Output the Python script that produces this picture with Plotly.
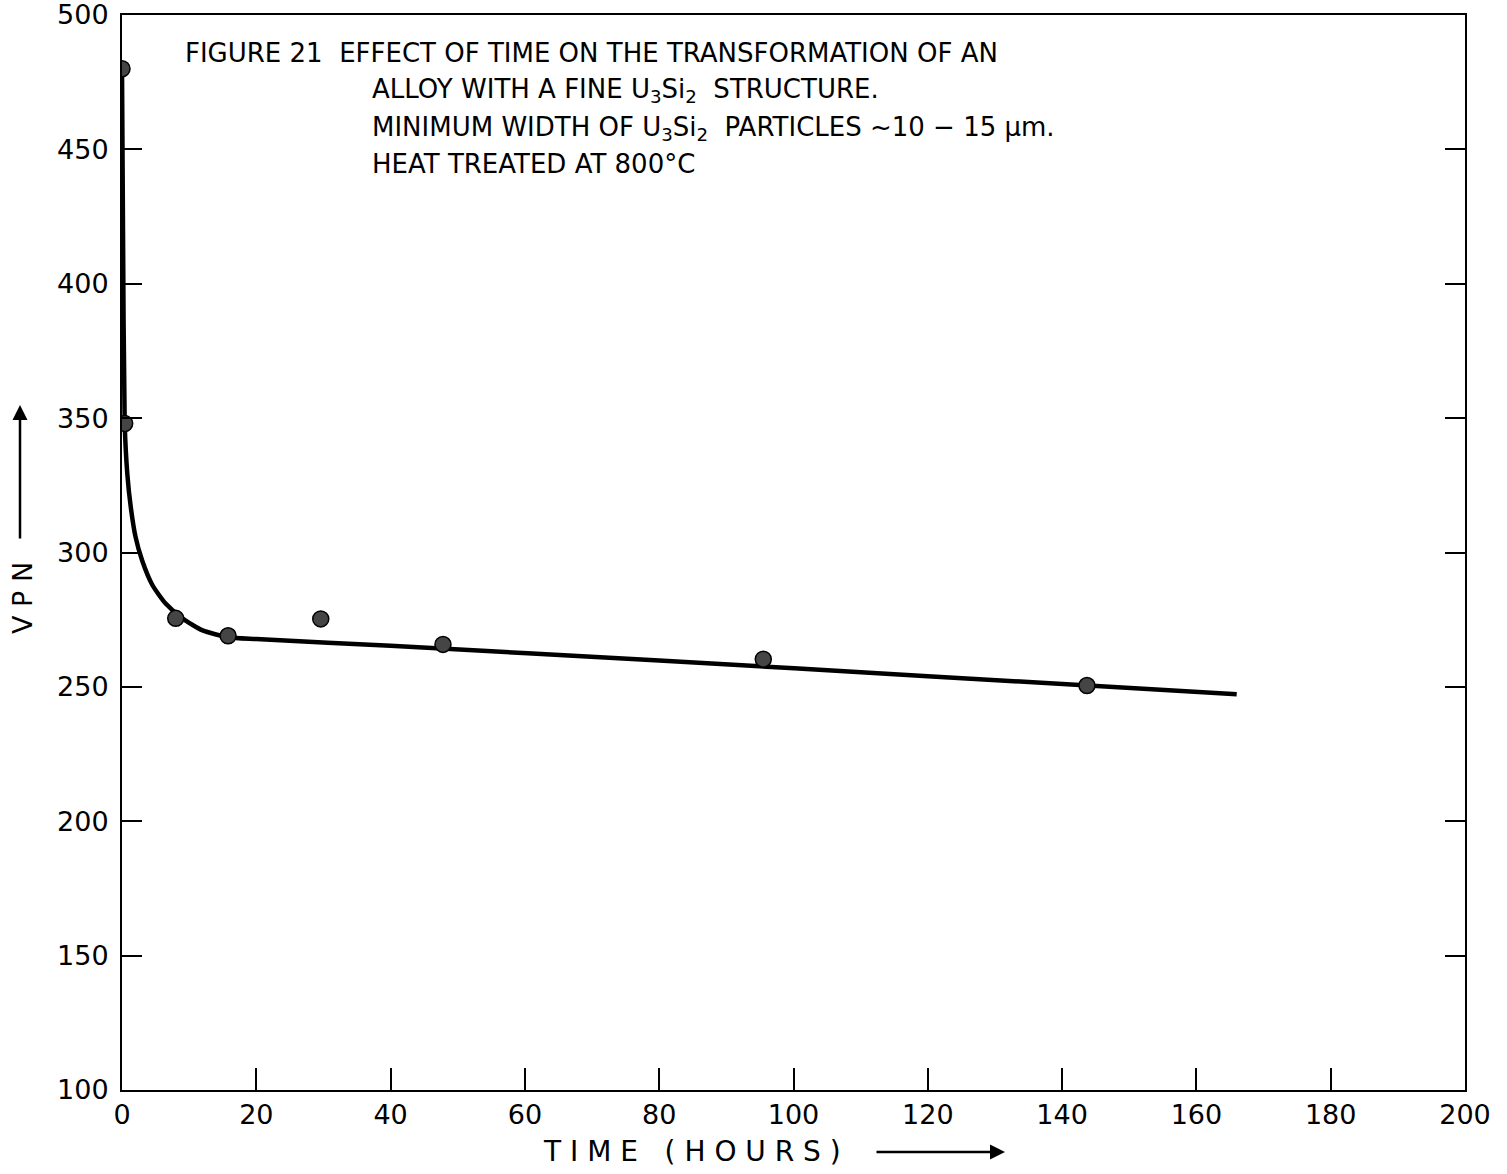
import plotly.graph_objects as go

# Data points (time in hours, VPN hardness)
time_pts = [0.0, 0.4, 8.0, 15.8, 29.6, 47.8, 95.5, 143.7]
vpn_pts = [480, 348, 275.5, 269, 275.3, 265.8, 260.3, 250.5]

# Fitted curve
curve_t = [0.0, 0.15, 0.4, 0.8, 1.3, 2.0, 3.0, 4.5, 6.5, 9.0, 12.0, 15.8, 20.0, 40.0, 80.0, 120.0, 166.0]
curve_v = [480, 420, 348, 329, 317, 306, 297, 288, 281, 275.5, 271, 268.5, 267.8, 265.3, 259.8, 254.0, 247.3]

x_ticks = [0, 20, 40, 60, 80, 100, 120, 140, 160, 180, 200]
y_ticks = [100, 150, 200, 250, 300, 350, 400, 450, 500]

FONT = "DejaVu Sans"

fig = go.Figure()
fig.add_trace(go.Scatter(x=curve_t, y=curve_v, mode="lines",
                         line=dict(color="black", width=4.5, shape="spline", smoothing=0.6),
                         hoverinfo="skip", showlegend=False))
fig.add_trace(go.Scatter(x=time_pts, y=vpn_pts, mode="markers",
                         marker=dict(size=16, color="#454545", line=dict(color="black", width=1.5)),
                         showlegend=False))

fig.update_layout(
    width=1507, height=1174,
    margin=dict(l=122, r=42, t=15, b=84),
    paper_bgcolor="white", plot_bgcolor="white",
    font=dict(family=FONT, color="black"),
    showlegend=False,
)
fig.update_xaxes(range=[0, 200], tickvals=x_ticks, ticktext=[str(v) for v in x_ticks],
                 ticks="inside", ticklen=22, tickwidth=2, tickcolor="black",
                 showline=True, linecolor="black", linewidth=2, mirror=True, automargin=False,
                 ticklabeloverflow="allow",
                 showgrid=False, zeroline=False, tickfont=dict(size=27, family=FONT))
fig.update_yaxes(range=[100, 500], tickvals=y_ticks, ticktext=[str(v) for v in y_ticks],
                 ticks="inside", ticklen=20, tickwidth=2, tickcolor="black",
                 showline=True, linecolor="black", linewidth=2, mirror="ticks", automargin=False,
                 ticklabelstandoff=6, ticklabeloverflow="allow",
                 showgrid=False, zeroline=False, tickfont=dict(size=27, family=FONT))

PW, PH = 1507 - 164, 1174 - 99

def px(x):
    return (x - 122) / PW

def py(y):
    return 1 - (y - 15) / PH

title_lines = [
    (183, 53, "FIGURE 21  EFFECT OF TIME ON THE TRANSFORMATION OF AN"),
    (370, 91, "ALLOY WITH A FINE U<sub>3</sub>Si<sub>2</sub>  STRUCTURE."),
    (370, 128, "MINIMUM WIDTH OF U<sub>3</sub>Si<sub>2</sub>  PARTICLES ~10 − 15 μm."),
    (370, 164, "HEAT TREATED AT 800°C"),
]
for x, y, t in title_lines:
    fig.add_annotation(text=t, xref="paper", yref="paper", x=px(x), y=py(y),
                       xanchor="left", yanchor="middle", showarrow=False,
                       font=dict(size=26, family=FONT, color="black"))

# X axis label with arrow
fig.add_annotation(text="T I M E   ( H O U R S )", xref="paper", yref="paper",
                   x=px(692), y=py(1151), xanchor="center", yanchor="middle", showarrow=False,
                   font=dict(size=28, family=FONT, color="black"))
fig.add_annotation(x=px(1005), y=py(1152), ax=-130, ay=0, axref="pixel", ayref="pixel",
                   xref="paper", yref="paper", text="", showarrow=True,
                   arrowhead=2, arrowsize=1.2, arrowwidth=2.5, arrowcolor="black")

# Y axis label with arrow
fig.add_annotation(text="V P N", xref="paper", yref="paper",
                   x=px(22), y=py(598), xanchor="center", yanchor="middle", showarrow=False,
                   textangle=-90, font=dict(size=27, family=FONT, color="black"))
fig.add_annotation(x=px(20), y=py(405), ax=0, ay=135, axref="pixel", ayref="pixel",
                   xref="paper", yref="paper", text="", showarrow=True,
                   arrowhead=2, arrowsize=1.2, arrowwidth=2.5, arrowcolor="black")

fig.write_html("out.html")
